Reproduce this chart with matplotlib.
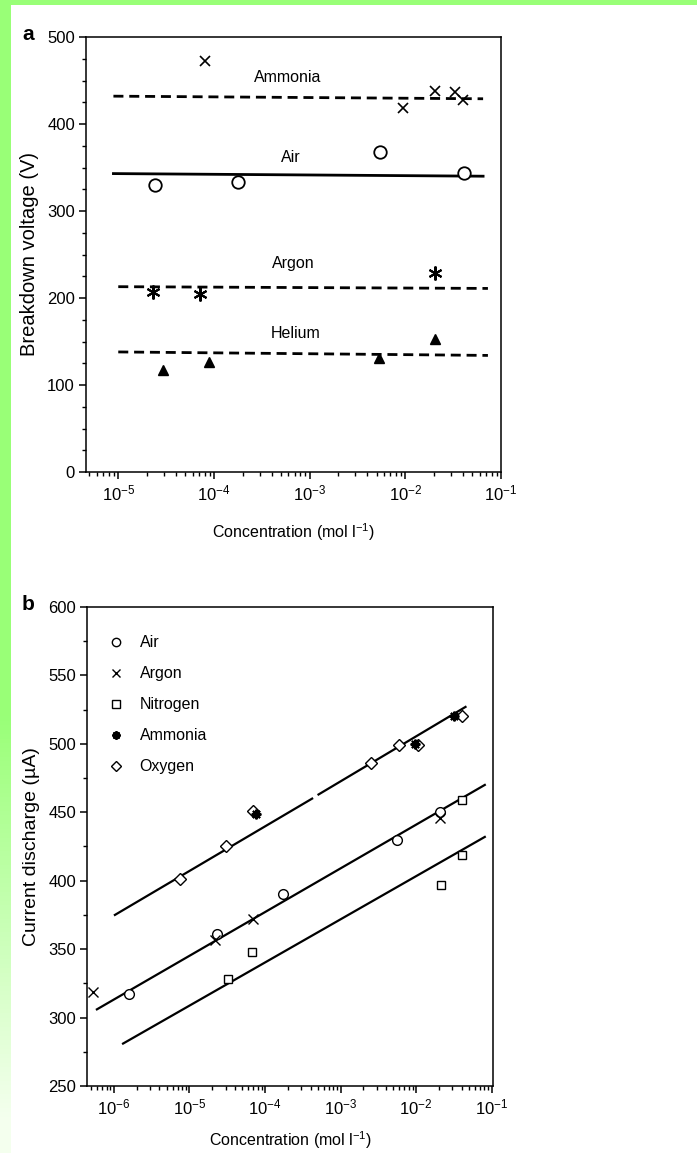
import numpy as np
import matplotlib
matplotlib.use("Agg")
import matplotlib.pyplot as plt
from matplotlib.ticker import MultipleLocator, LogLocator, NullFormatter
from matplotlib.lines import Line2D

plt.rcParams['font.family'] = ['Liberation Sans', 'DejaVu Sans']
plt.rcParams['mathtext.fontset'] = 'custom'
plt.rcParams['mathtext.rm'] = 'Liberation Sans'
plt.rcParams['mathtext.it'] = 'Liberation Sans'

# ---------------- Panel a data ----------------
ammonia_a_x = [8.1e-5, 9.4e-3, 2.05e-2, 3.3e-2, 4.0e-2]
ammonia_a_y = [472, 418, 438, 437, 428]
air_a_x = [2.4e-5, 1.8e-4, 5.4e-3, 4.1e-2]
air_a_y = [330, 333, 368, 344]
argon_a_x = [2.3e-5, 7.2e-5, 2.05e-2]
argon_a_y = [207, 205, 229]
helium_a_x = [2.9e-5, 8.8e-5, 5.3e-3, 2.05e-2]
helium_a_y = [117, 126, 131, 153]

ammonia_fit_x = [8.9e-6, 6.5e-2]
ammonia_fit_y = [432, 429]
air_fit_a_x = [8.9e-6, 6.5e-2]
air_fit_a_y = [343, 340]
argon_fit_x = [1.0e-5, 7.3e-2]
argon_fit_y = [213, 211]
helium_fit_x = [1.0e-5, 7.3e-2]
helium_fit_y = [138, 134]

labels_a = ["Ammonia", "Air", "Argon", "Helium"]
labels_a_x = [5.9e-4, 6.3e-4, 6.8e-4, 7.1e-4]
labels_a_y = [454, 362, 240, 159]

# ---------------- Panel b data ----------------
air_b_x = [1.58e-6, 2.3e-5, 1.75e-4, 5.5e-3, 2.05e-2]
air_b_y = [317, 361, 390, 430, 450]
argon_b_x = [5.3e-7, 2.2e-5, 6.9e-5, 2.05e-2]
argon_b_y = [319, 357, 372, 446]
nitrogen_b_x = [3.25e-5, 6.8e-5, 2.1e-2, 4.1e-2, 4.1e-2]
nitrogen_b_y = [328, 348, 397, 419, 459]
ammonia_b_x = [7.6e-5, 9.6e-3, 3.2e-2]
ammonia_b_y = [449, 500, 520]
oxygen_b_x = [7.5e-6, 3.05e-5, 6.9e-5, 2.5e-3, 6.0e-3, 1.05e-2, 4.1e-2]
oxygen_b_y = [401, 425, 451, 486, 499, 499, 520]

oxy_fit_x1 = [1.03e-6, 4.2e-4]
oxy_fit_y1 = [375, 460]
oxy_fit_x2 = [5.1e-4, 4.5e-2]
oxy_fit_y2 = [463, 527]
air_fit_b_x = [5.95e-7, 8.1e-2]
air_fit_b_y = [306, 470]
n2_fit_x = [1.32e-6, 8.1e-2]
n2_fit_y = [281, 432]

legend_labels = ["Air", "Argon", "Nitrogen", "Ammonia", "Oxygen"]

W, H = 697, 1153
fig = plt.figure(figsize=(W / 100, H / 100), dpi=100, facecolor='white')

# green frame (scan border)
bg = fig.add_axes([0, 0, 1, 1], zorder=-10)
bg.set_xlim(0, W); bg.set_ylim(H, 0); bg.axis('off')
grad = np.linspace(0, 1, 256).reshape(-1, 1)
top_c = np.array([153, 255, 119]) / 255
bot_c = np.array([244, 255, 238]) / 255
frac = np.clip((grad - 0.62) / 0.35, 0, 1)
img = top_c * (1 - frac) + bot_c * frac
bg.imshow(img.reshape(256, 1, 3), extent=[0, 11, H, 0], aspect='auto')
bg.add_patch(plt.Rectangle((0, 0), W, 5, color=top_c, lw=0))

def style_axes(ax):
    for s in ax.spines.values():
        s.set_linewidth(1.1)
    ax.tick_params(which='major', direction='out', length=5, width=1.1, labelsize=12, pad=3,
                   top=False, right=False)
    ax.tick_params(which='minor', direction='out', length=3, width=1.0, top=False, right=False)
    ax.xaxis.set_minor_locator(LogLocator(base=10, subs=np.arange(2, 10)))
    ax.xaxis.set_minor_formatter(NullFormatter())

# ---------------- Panel a ----------------
ax1 = fig.add_axes([86 / W, 1 - 472 / H, (501 - 86) / W, (472 - 37) / H])
ax1.set_xscale('log')
ax1.set_xlim(4.6e-6, 0.1)
ax1.set_ylim(0, 500)
ax1.yaxis.set_major_locator(MultipleLocator(100))
ax1.yaxis.set_minor_locator(MultipleLocator(25))
ax1.xaxis.set_major_locator(LogLocator(base=10, numticks=10))
style_axes(ax1)

dash = dict(color='black', lw=2.0, dashes=(3.6, 2.1))
ax1.plot(ammonia_fit_x, ammonia_fit_y, **dash)
ax1.plot(argon_fit_x, argon_fit_y, **dash)
ax1.plot(helium_fit_x, helium_fit_y, **dash)
ax1.plot(air_fit_a_x, air_fit_a_y, color='black', lw=2.0)

ax1.plot(ammonia_a_x, ammonia_a_y, 'x', color='black', ms=7.5, mew=1.2, ls='none')
ax1.plot(air_a_x, air_a_y, 'o', mfc='white', mec='black', ms=9, mew=1.3, ls='none')
ax1.plot(argon_a_x, argon_a_y, marker=(6, 2, 0), color='black', ms=10, mew=1.5, ls='none')
ax1.plot(helium_a_x, helium_a_y, '^', color='black', ms=6.5, ls='none')

for t, x, y in zip(labels_a, labels_a_x, labels_a_y):
    ax1.text(x, y, t, ha='center', va='center', fontsize=11.5)

ax1.set_ylabel('Breakdown voltage (V)', fontsize=14.5, labelpad=6)
ax1.set_xlabel(r'Concentration (mol l$^{-1}$)', fontsize=11.5, labelpad=13)
fig.text(22 / W, 1 - 35 / H, 'a', fontsize=15, fontweight='bold', ha='left', va='center')

# ---------------- Panel b ----------------
ax2 = fig.add_axes([87 / W, 1 - 1086 / H, (493 - 87) / W, (1086 - 607) / H])
ax2.set_xscale('log')
ax2.set_xlim(4.4e-7, 0.104)
ax2.set_ylim(250, 600)
ax2.yaxis.set_major_locator(MultipleLocator(50))
ax2.yaxis.set_minor_locator(MultipleLocator(25))
ax2.xaxis.set_major_locator(LogLocator(base=10, numticks=10))
style_axes(ax2)

ax2.plot(oxy_fit_x1, oxy_fit_y1, color='black', lw=1.6)
ax2.plot(oxy_fit_x2, oxy_fit_y2, color='black', lw=1.6)
ax2.plot(air_fit_b_x, air_fit_b_y, color='black', lw=1.6)
ax2.plot(n2_fit_x, n2_fit_y, color='black', lw=1.6)

mk = dict(ls='none', color='black')
ax2.plot(air_b_x, air_b_y, 'o', mfc='white', mec='black', ms=7, mew=1.0, ls='none')
ax2.plot(argon_b_x, argon_b_y, 'x', ms=7, mew=1.0, **mk)
ax2.plot(nitrogen_b_x, nitrogen_b_y, 's', mfc='white', mec='black', ms=6, mew=1.0, ls='none')
ax2.plot(oxygen_b_x, oxygen_b_y, 'D', mfc='white', mec='black', ms=6, mew=1.0, ls='none')
ax2.plot(ammonia_b_x, ammonia_b_y, marker=(8, 2, 0), ms=7, mew=1.5, **mk)

handles = [
    Line2D([], [], marker='o', mfc='white', mec='black', ms=6, mew=1.0, ls='none'),
    Line2D([], [], marker='x', color='black', ms=6, mew=1.0, ls='none'),
    Line2D([], [], marker='s', mfc='white', mec='black', ms=5.5, mew=1.0, ls='none'),
    Line2D([], [], marker=(8, 2, 0), color='black', ms=6, mew=1.5, ls='none'),
    Line2D([], [], marker='D', mfc='white', mec='black', ms=5, mew=1.0, ls='none'),
]
ax2.legend(handles, legend_labels, loc='upper left', bbox_to_anchor=(0.035, 0.954),
           frameon=False, fontsize=11.5, handlelength=1.0, handletextpad=1.0,
           labelspacing=1.0, borderaxespad=0)

ax2.set_ylabel('Current discharge (µA)', fontsize=14, labelpad=6)
ax2.set_xlabel(r'Concentration (mol l$^{-1}$)', fontsize=11.5, labelpad=9)
fig.text(22 / W, 1 - 605 / H, 'b', fontsize=15, fontweight='bold', ha='left', va='center')

fig.savefig('out.png', dpi=100, facecolor='white')
